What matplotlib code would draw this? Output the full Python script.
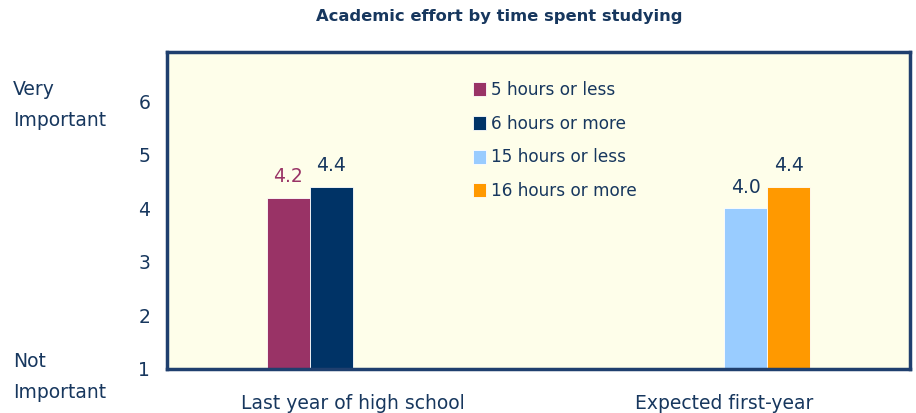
import numpy as np
import matplotlib.pyplot as plt

# Chart data
categories = ["Last year of high school", "Expected first-year"]
series_labels = ["5 hours or less", "6 hours or more", "15 hours or less", "16 hours or more"]
# one value per category for each series (None = no bar)
series_values = [
    [4.2, None],
    [4.4, None],
    [None, 4.0],
    [None, 4.4],
]
series_colors = ["#993366", "#003366", "#99CCFF", "#FF9900"]
label_colors = ["#993366", "#17375E", "#17375E", "#17375E"]
y_ticks = [1, 2, 3, 4, 5, 6]

navy = "#17375E"

fig = plt.figure(figsize=(9.16, 4.13), dpi=100)
ax = fig.add_axes([167 / 916, 1 - 369 / 413, (910 - 167) / 916, (369 - 52) / 413])
ax.set_facecolor("#FEFEEA")

x = np.arange(len(categories))
w = 0.116
offsets = [-1.5 * w, -0.5 * w, 0.5 * w, 1.5 * w]

for i, (vals, lab) in enumerate(zip(series_values, series_labels)):
    xs = [x[j] + offsets[i] for j, v in enumerate(vals) if v is not None]
    hs = [v - 1 for v in vals if v is not None]
    ax.bar(xs, hs, bottom=1, width=w, color=series_colors[i], edgecolor="white",
           linewidth=0.6, label=lab)
    for xx, v in zip(xs, [v for v in vals if v is not None]):
        ax.text(xx, v + 0.22, f"{v:.1f}", ha="center", va="bottom",
                fontsize=13.5, color=label_colors[i])

ax.set_xlim(-0.5, 1.5)
ax.set_ylim(1, 6.92)
ax.set_yticks(y_ticks)
ax.set_yticklabels([str(t) for t in y_ticks])
ax.set_xticks(x)
ax.set_xticklabels(categories)
ax.tick_params(axis="both", length=0, labelsize=13.5, labelcolor=navy)
ax.tick_params(axis="y", pad=12)
ax.tick_params(axis="x", pad=18)

for s in ax.spines.values():
    s.set_color("#1F3F6E")
    s.set_linewidth(2.5)

# side labels
fig.text(13 / 916, 1 - 105 / 413, "Very\nImportant", ha="left", va="center",
         fontsize=13.5, color=navy, linespacing=1.75)
fig.text(13 / 916, 1 - 377 / 413, "Not\nImportant", ha="left", va="center",
         fontsize=13.5, color=navy, linespacing=1.75)

fig.text(499 / 916, 1 - 17 / 413, "Academic effort by time spent studying",
         ha="center", va="center", fontsize=11.8, fontweight="bold", color=navy)

leg = ax.legend(loc="upper left", bbox_to_anchor=(0.4025, 0.93), frameon=False,
                fontsize=12.2, handlelength=0.8, handleheight=0.9, handletextpad=0.25,
                labelspacing=0.93, borderaxespad=0)
for t in leg.get_texts():
    t.set_color(navy)

fig.savefig("out.png", dpi=100)
